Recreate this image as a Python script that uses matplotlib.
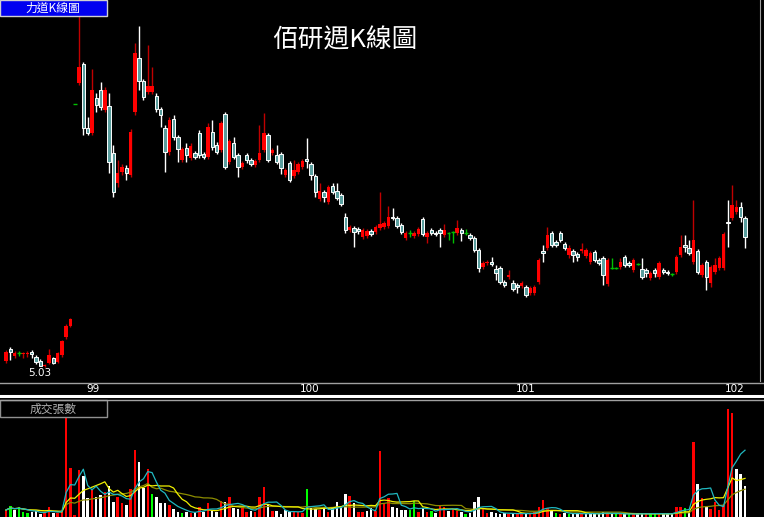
import numpy as np
import pandas as pd
import matplotlib
matplotlib.use("Agg")
import matplotlib.pyplot as plt
import matplotlib.transforms as mtransforms
from matplotlib.patches import Rectangle
from matplotlib.lines import Line2D

plt.rcParams['font.family'] = ['Noto Sans CJK TC', 'DejaVu Sans']

# weekly OHLC
opens = [5.6, 6.8, 6.1, 6.4, 6.3, 6.3, 6.5, 6.0, 5.6, 5.1, 5.4, 5.9, 5.5, 6.2, 8.0, 9.1,
         31.3, 33.4, 35.3, 28.9, 28.4, 31.9, 32.7, 30.7, 31.1, 26.4, 23.4, 24.5, 24.9, 24.2,
         30.5, 35.9, 33.6, 32.5, 32.5, 32.1, 30.8, 28.9, 26.5, 29.8, 28.0, 25.7, 26.9, 25.9,
         26.4, 28.4, 26.3, 26.0, 28.5, 27.2, 26.7, 30.3, 25.5, 27.4, 26.2, 25.0, 26.2, 25.7,
         25.2, 25.7, 26.7, 28.2, 26.4, 26.2, 26.3, 24.2, 25.4, 24.1, 24.5, 25.0, 25.8, 25.3,
         24.1, 21.8, 22.5, 21.5, 23.1, 22.6, 22.2, 20.0, 18.7, 18.9, 18.8, 18.0, 18.1, 18.6,
         18.5, 18.9, 19.0, 19.1, 20.0, 19.9, 19.2, 17.9, 18.4, 18.1, 18.3, 19.8, 18.0, 18.7,
         18.4, 18.7, 18.2, 18.4, 18.5, 18.4, 18.7, 18.4, 18.2, 17.9, 16.7, 15.0, 15.4, 15.5,
         14.8, 14.9, 13.5, 14.0, 13.4, 13.2, 13.1, 13.0, 12.4, 12.4, 13.5, 16.6, 16.9, 18.4,
         17.5, 18.4, 17.3, 16.2, 16.6, 16.3, 16.6, 16.1, 15.5, 16.5, 15.7, 15.9, 13.3, 14.9,
         14.9, 15.0, 16.0, 15.4, 14.7, 15.3, 14.8, 14.7, 13.9, 14.7, 14.0, 14.7, 14.5, 14.3,
         14.5, 16.2, 17.2, 16.9, 15.5, 16.6, 14.2, 15.5, 13.4, 14.5, 14.9, 14.9, 19.5, 19.9,
         20.5, 21.0, 19.9]
highs = [6.7, 7.0, 6.6, 6.6, 6.5, 6.6, 6.7, 6.2, 5.8, 5.35, 6.8, 6.0, 6.5, 7.7, 9.3, 9.9,
         31.3, 40.2, 35.5, 30.0, 34.8, 32.4, 33.5, 33.0, 32.4, 27.2, 25.7, 25.3, 25.2, 28.8,
         37.4, 39.1, 33.8, 37.2, 35.0, 32.4, 31.0, 29.2, 30.0, 30.2, 28.2, 27.0, 27.4, 27.4,
         26.6, 28.7, 26.5, 29.4, 29.7, 27.5, 29.6, 30.5, 27.8, 28.0, 26.4, 25.6, 26.4, 25.9,
         25.8, 29.2, 30.4, 28.4, 26.9, 27.2, 26.5, 24.9, 25.6, 25.7, 25.5, 25.8, 27.9, 25.5,
         24.3, 23.4, 22.7, 23.2, 23.4, 23.4, 22.4, 20.4, 19.2, 19.1, 19.0, 18.9, 18.8, 18.8,
         19.2, 22.5, 19.6, 21.1, 20.9, 20.1, 19.4, 18.6, 18.7, 18.6, 19.0, 20.0, 18.6, 18.9,
         18.6, 18.9, 19.3, 18.5, 18.6, 19.7, 18.9, 18.8, 18.4, 18.1, 16.9, 15.6, 15.7, 16.0,
         15.2, 15.1, 13.7, 14.7, 13.7, 13.4, 13.6, 13.2, 13.1, 13.2, 15.9, 17.2, 19.0, 18.6,
         17.7, 18.6, 17.5, 17.2, 16.8, 16.5, 17.4, 16.9, 16.6, 16.7, 15.9, 16.1, 15.9, 15.9,
         15.0, 15.9, 16.2, 15.6, 15.9, 15.4, 15.9, 14.9, 14.6, 14.9, 15.6, 14.9, 14.7, 14.4,
         16.2, 18.2, 18.2, 17.7, 21.7, 16.8, 15.4, 15.7, 15.2, 15.9, 16.1, 18.5, 21.7, 23.2,
         21.7, 21.5, 20.1]
lows = [5.4, 5.7, 5.9, 6.1, 5.9, 6.0, 5.9, 5.3, 5.1, 5.03, 5.3, 5.3, 5.4, 6.0, 7.8, 9.0,
        31.3, 33.2, 28.2, 28.2, 28.2, 30.5, 30.7, 30.5, 24.4, 22.0, 23.0, 24.2, 23.7, 24.0,
        30.2, 32.7, 31.7, 32.3, 32.3, 30.5, 29.0, 24.5, 26.2, 27.7, 25.5, 25.5, 25.5, 25.7,
        25.8, 25.9, 25.8, 25.8, 26.7, 26.3, 26.5, 24.8, 25.3, 25.8, 24.0, 24.8, 25.4, 25.1,
        25.0, 25.5, 26.5, 25.5, 26.2, 25.3, 24.3, 24.0, 23.5, 23.9, 24.3, 24.8, 24.9, 23.7,
        22.0, 21.6, 21.5, 21.3, 22.3, 21.7, 21.1, 18.4, 18.5, 17.0, 18.3, 17.8, 17.9, 18.1,
        18.3, 18.7, 18.8, 18.9, 19.7, 18.9, 18.3, 17.7, 18.0, 17.9, 18.1, 18.1, 17.4, 18.2,
        18.1, 17.0, 18.0, 17.7, 17.4, 18.2, 17.6, 18.2, 17.7, 16.5, 14.5, 14.8, 15.2, 15.1,
        13.7, 13.3, 13.0, 13.8, 12.6, 12.4, 12.9, 12.0, 12.2, 12.2, 13.3, 15.5, 16.7, 17.0,
        17.0, 17.5, 16.7, 15.9, 15.5, 15.6, 16.4, 15.9, 15.3, 15.5, 15.2, 13.2, 13.1, 14.8,
        14.8, 14.8, 15.0, 15.0, 14.5, 15.2, 13.8, 14.0, 13.7, 14.0, 13.8, 14.3, 14.2, 14.1,
        14.3, 16.0, 16.5, 16.2, 15.3, 14.3, 14.0, 12.7, 13.0, 14.3, 14.7, 14.7, 17.0, 19.7,
        20.3, 19.5, 16.9]
closes = [6.5, 6.5, 6.4, 6.4, 6.4, 6.4, 6.3, 5.5, 5.15, 5.25, 6.2, 5.4, 6.4, 7.6, 9.1, 9.8,
          31.3, 35.0, 28.9, 28.4, 32.7, 31.2, 31.0, 32.7, 25.5, 22.5, 24.4, 25.0, 24.4, 28.5,
          36.4, 33.6, 32.0, 33.1, 33.1, 30.8, 30.2, 26.5, 29.7, 28.0, 26.8, 26.8, 26.2, 27.1,
          26.0, 26.2, 26.0, 29.0, 27.0, 26.5, 29.4, 25.0, 27.6, 26.0, 25.0, 25.4, 25.7, 25.3,
          25.6, 26.4, 28.4, 25.7, 26.7, 25.5, 24.9, 24.7, 23.7, 24.7, 25.3, 25.6, 25.6, 24.2,
          22.5, 22.6, 22.0, 23.0, 22.5, 21.9, 21.3, 18.7, 19.0, 18.5, 18.6, 18.7, 18.6, 18.3,
          19.0, 19.3, 19.4, 20.0, 19.9, 19.1, 18.5, 18.4, 18.4, 18.4, 18.8, 18.3, 18.4, 18.4,
          18.3, 18.4, 18.7, 18.4, 18.5, 18.9, 18.4, 18.4, 17.9, 16.7, 14.9, 15.4, 15.5, 15.3,
          14.4, 13.5, 13.2, 14.2, 12.8, 13.0, 13.4, 12.2, 12.9, 13.0, 15.7, 16.4, 18.2, 17.2,
          17.2, 17.7, 16.9, 16.9, 16.2, 16.0, 16.8, 16.7, 16.4, 15.7, 15.4, 14.2, 15.7, 14.9,
          14.9, 15.5, 15.2, 15.2, 15.7, 15.3, 14.0, 14.4, 14.4, 14.4, 15.4, 14.5, 14.4, 14.3,
          16.0, 17.0, 17.0, 16.4, 17.7, 14.5, 15.2, 14.0, 15.0, 15.2, 15.9, 18.3, 19.4, 21.2,
          21.0, 20.0, 18.0]
# weekly volume (張)
volumes = [700, 1100, 700, 1000, 500, 400, 500, 600, 300, 400, 1000, 400, 400, 500, 10000, 4900,
           200, 4700, 4100, 1900, 2700, 2000, 2200, 2500, 3100, 1500, 2000, 1400, 1200, 2800,
           6700, 5500, 2900, 4800, 2300, 2000, 1400, 1400, 1200, 800, 500, 400, 500, 400,
           500, 1000, 500, 1400, 600, 500, 1600, 1500, 2000, 900, 800, 1000, 500, 600,
           500, 2000, 3000, 1300, 600, 600, 300, 700, 500, 600, 500, 400, 2800, 900,
           800, 700, 900, 500, 900, 1500, 900, 2300, 2100, 1400, 500, 500, 600, 900,
           600, 6600, 1400, 1900, 1000, 900, 700, 700, 700, 1600, 500, 900, 500, 600,
           400, 1200, 1000, 600, 800, 600, 500, 300, 400, 1500, 2000, 900, 400, 500,
           400, 300, 400, 300, 400, 300, 300, 400, 300, 500, 1000, 1700, 900, 600,
           400, 300, 400, 300, 300, 400, 300, 300, 400, 300, 300, 500, 400, 300,
           300, 300, 300, 300, 300, 300, 400, 300, 300, 400, 300, 300, 300, 300,
           1000, 1000, 900, 500, 7500, 3300, 1900, 1000, 800, 1500, 700, 1200, 10800, 10400,
           4800, 4300, 3100]

year_labels = ['99', '100', '101', '102']
year_weeks = [20.3, 70.7, 121.0, 169.6]

o = np.array(opens)
h = np.array(highs)
l = np.array(lows)
c = np.array(closes)
v = np.array(volumes)
idx = np.arange(len(c))

W, H = 764, 517
fig = plt.figure(figsize=(W / 100, H / 100), dpi=100, facecolor='black')

step = (745 - 6) / (len(c) - 1)
xlim = (-6 / step, (760 - 6) / step)

# price panel
ax = fig.add_axes([0, (H - 381) / H, 760 / W, 381 / H])
ax.set_facecolor('black')
ax.set_xlim(*xlim)
ax.set_ylim(3.6, 41.7)
for s in ['top', 'left', 'bottom']:
    ax.spines[s].set_visible(False)
ax.spines['right'].set_color('#a0a0a0')
ax.set_xticks([])
ax.set_yticks([])

up = c > o
dn = c < o
fl = np.isclose(c, o)
bot = np.minimum(o, c)
ht = np.abs(c - o)

ax.vlines(idx[up], l[up], h[up], color='#c00000', lw=1, zorder=2)
ax.vlines(idx[dn], l[dn], h[dn], color='white', lw=1, zorder=2)
ax.vlines(idx[fl], l[fl], h[fl], color='#00c000', lw=1, zorder=2)
ax.bar(idx[up], ht[up], bottom=bot[up], width=0.8, color='#ff0000', lw=0, zorder=3)
ax.bar(idx[dn], ht[dn], bottom=bot[dn], width=0.8, color='#5a9e9e',
       edgecolor='white', lw=0.7, zorder=3)
ax.hlines(c[fl], idx[fl] - 0.45, idx[fl] + 0.45, color='#00c000', lw=1, zorder=3)

imin = int(np.argmin(l))
ax.text(idx[imin] - 1.2, l[imin] - 0.1, f'{l[imin]:.2f}', color='white',
        fontsize=7.5, ha='center', va='top', family='DejaVu Sans')

# year labels below the price panel
tr = mtransforms.blended_transform_factory(ax.transData, fig.transFigure)
for lab, pos in zip(year_labels, year_weeks):
    fig.text(pos, (H - 389) / H, lab, transform=tr, color='white', fontsize=7.5,
             ha='center', va='center', family='DejaVu Sans')

# separator lines
for ypx, col, lw in [(383, '#a0a0a0', 1.0), (395.5, 'white', 2.2), (399.5, '#a0a0a0', 1.0)]:
    fig.add_artist(Line2D([0, 1], [(H - ypx) / H] * 2, color=col, lw=lw))

# volume panel
vax = fig.add_axes([0, 0, 760 / W, 117 / H])
vax.set_facecolor('black')
vax.set_xlim(*xlim)
vax.set_ylim(0, 11700)
for s in vax.spines.values():
    s.set_visible(False)
vax.set_xticks([])
vax.set_yticks([])

prev = np.r_[o[0], c[:-1]]
vcol = np.where(np.isclose(c, prev), '#00ff00', np.where(c > prev, '#ff0000', 'white'))
vax.bar(idx, v, width=0.58, color=vcol, lw=0)

vs = pd.Series(v, dtype=float)
vax.plot(idx, vs.rolling(20, min_periods=1).mean(), color='#8c8c00', lw=0.9)
vax.plot(idx, vs.rolling(10, min_periods=1).mean(), color='#f0f000', lw=0.9)
vax.plot(idx, vs.rolling(5, min_periods=1).mean(), color='#20b8c0', lw=0.9)

# header boxes and title
fig.add_artist(Rectangle((0, (H - 16) / H), 107 / W, 16 / H, transform=fig.transFigure,
                         facecolor='#0000f0', edgecolor='#d0d0d0', lw=1))
fig.text(53 / W, (H - 8) / H, '力道K線圖', color='white', fontsize=8.5,
         ha='center', va='center')
fig.add_artist(Rectangle((0, (H - 417) / H), 107 / W, 17 / H, transform=fig.transFigure,
                         facecolor='black', edgecolor='#909090', lw=1))
fig.text(53 / W, (H - 409) / H, '成交張數', color='#b0b0b0', fontsize=8.5,
         ha='center', va='center')
fig.text(345 / W, (H - 40) / H, '佰研週K線圖', color='white', fontsize=18.5,
         ha='center', va='center')

fig.savefig('out.png', dpi=100, facecolor='black')
